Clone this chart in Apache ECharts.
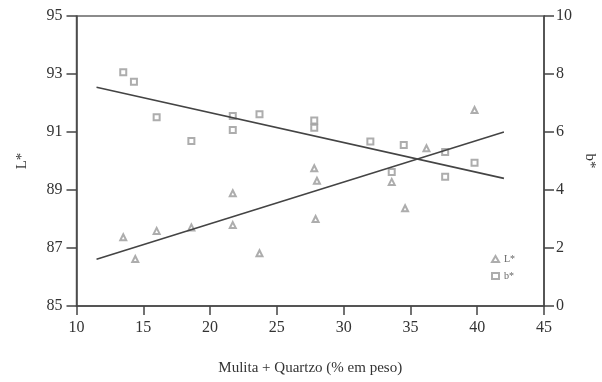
<!DOCTYPE html>
<html>
<head>
<meta charset="utf-8">
<script src="https://cdn.jsdelivr.net/npm/echarts@6/dist/echarts.min.js"></script>
<style>
  html, body { margin: 0; padding: 0; background: #fff; }
  #chart { width: 602px; height: 382px; }
</style>
</head>
<body>
<div id="chart"></div>
<script>
// L* points (triangles), left axis
var lX = [13.5, 14.4, 16.0, 18.6, 21.7, 21.7, 23.7, 27.8, 28.0, 27.9, 33.6, 34.6, 36.2, 39.8];
var lY = [87.37, 86.62, 87.59, 87.71, 88.89, 87.79, 86.82, 89.75, 89.32, 88.0, 89.28, 88.37, 90.44, 91.76];
// b* points (squares), right axis
var bX = [13.5, 14.3, 16.0, 18.6, 21.7, 21.7, 23.7, 27.8, 27.8, 32.0, 33.6, 34.5, 37.6, 37.6, 39.8];
var bY = [8.06, 7.73, 6.51, 5.69, 6.55, 6.07, 6.61, 6.4, 6.15, 5.67, 4.62, 5.55, 5.31, 4.46, 4.94];
// fitted lines (end points)
var fitX = [11.5, 42.0];
var fitL = [86.61, 91.0];
var fitB = [7.54, 4.40];

var serif = '"Liberation Serif", "DejaVu Serif", serif';
var axisCol = '#444';

function pairs(xs, ys) {
  var out = [];
  for (var i = 0; i < xs.length; i++) out.push([xs[i], ys[i]]);
  return out;
}

var myChart = echarts.init(document.getElementById('chart'));
var options = {
  animation: false,
  backgroundColor: '#fff',
  grid: {
    left: 76.5, right: 58, top: 16, bottom: 76,
    outerBoundsMode: 'none',
    show: true, borderColor: '#666', borderWidth: 1.5
  },
  legend: {
    orient: 'vertical',
    left: 486, top: 249,
    itemWidth: 7, itemHeight: 6, itemGap: 7,
    textStyle: { fontFamily: serif, fontSize: 10, color: '#666' },
    data: ['L*', 'b*']
  },
  xAxis: {
    type: 'value',
    min: 10, max: 45, interval: 5,
    name: 'Mulita + Quartzo (% em peso)',
    nameLocation: 'middle', nameGap: 55,
    nameTextStyle: { fontFamily: serif, fontSize: 15, color: '#333' },
    axisLine: { lineStyle: { color: axisCol, width: 1.5 } },
    axisTick: { inside: false, length: 9, lineStyle: { color: axisCol, width: 1.5 } },
    axisLabel: { fontFamily: serif, fontSize: 16, color: '#333', margin: 14 },
    splitLine: { show: false }
  },
  yAxis: [{
    type: 'value',
    min: 85, max: 95, interval: 2,
    name: 'L*',
    nameLocation: 'middle', nameGap: 47,
    nameTextStyle: { fontFamily: serif, fontSize: 15, color: '#333' },
    axisLine: { show: true, lineStyle: { color: axisCol, width: 1.5 } },
    axisTick: { show: true, length: 10, lineStyle: { color: axisCol, width: 1.5 } },
    axisLabel: { fontFamily: serif, fontSize: 16, color: '#333', margin: 14 },
    splitLine: { show: false }
  }, {
    type: 'value',
    min: 0, max: 10, interval: 2,
    position: 'right',
    name: 'b*',
    nameLocation: 'middle', nameGap: 38, nameRotate: -90,
    nameTextStyle: { fontFamily: serif, fontSize: 15, color: '#333' },
    axisLine: { show: true, lineStyle: { color: axisCol, width: 1.5 } },
    axisTick: { show: true, length: 10, lineStyle: { color: axisCol, width: 1.5 } },
    axisLabel: { fontFamily: serif, fontSize: 16, color: '#333', margin: 12 },
    splitLine: { show: false }
  }],
  series: [
    {
      name: 'L*', type: 'scatter', yAxisIndex: 0,
      symbol: 'emptyTriangle', symbolSize: 6,
      itemStyle: { color: '#999', borderColor: '#999', borderWidth: 1.2 },
      data: pairs(lX, lY)
    },
    {
      name: 'b*', type: 'scatter', yAxisIndex: 1,
      symbol: 'emptyRect', symbolSize: 6,
      itemStyle: { color: '#999', borderColor: '#999', borderWidth: 1.2 },
      data: pairs(bX, bY)
    },
    {
      name: 'fitL', type: 'line', yAxisIndex: 0,
      showSymbol: false, silent: true,
      lineStyle: { color: '#444', width: 1.6 },
      data: pairs(fitX, fitL)
    },
    {
      name: 'fitB', type: 'line', yAxisIndex: 1,
      showSymbol: false, silent: true,
      lineStyle: { color: '#444', width: 1.6 },
      data: pairs(fitX, fitB)
    }
  ]
};
myChart.setOption(options);
</script>
</body>
</html>
